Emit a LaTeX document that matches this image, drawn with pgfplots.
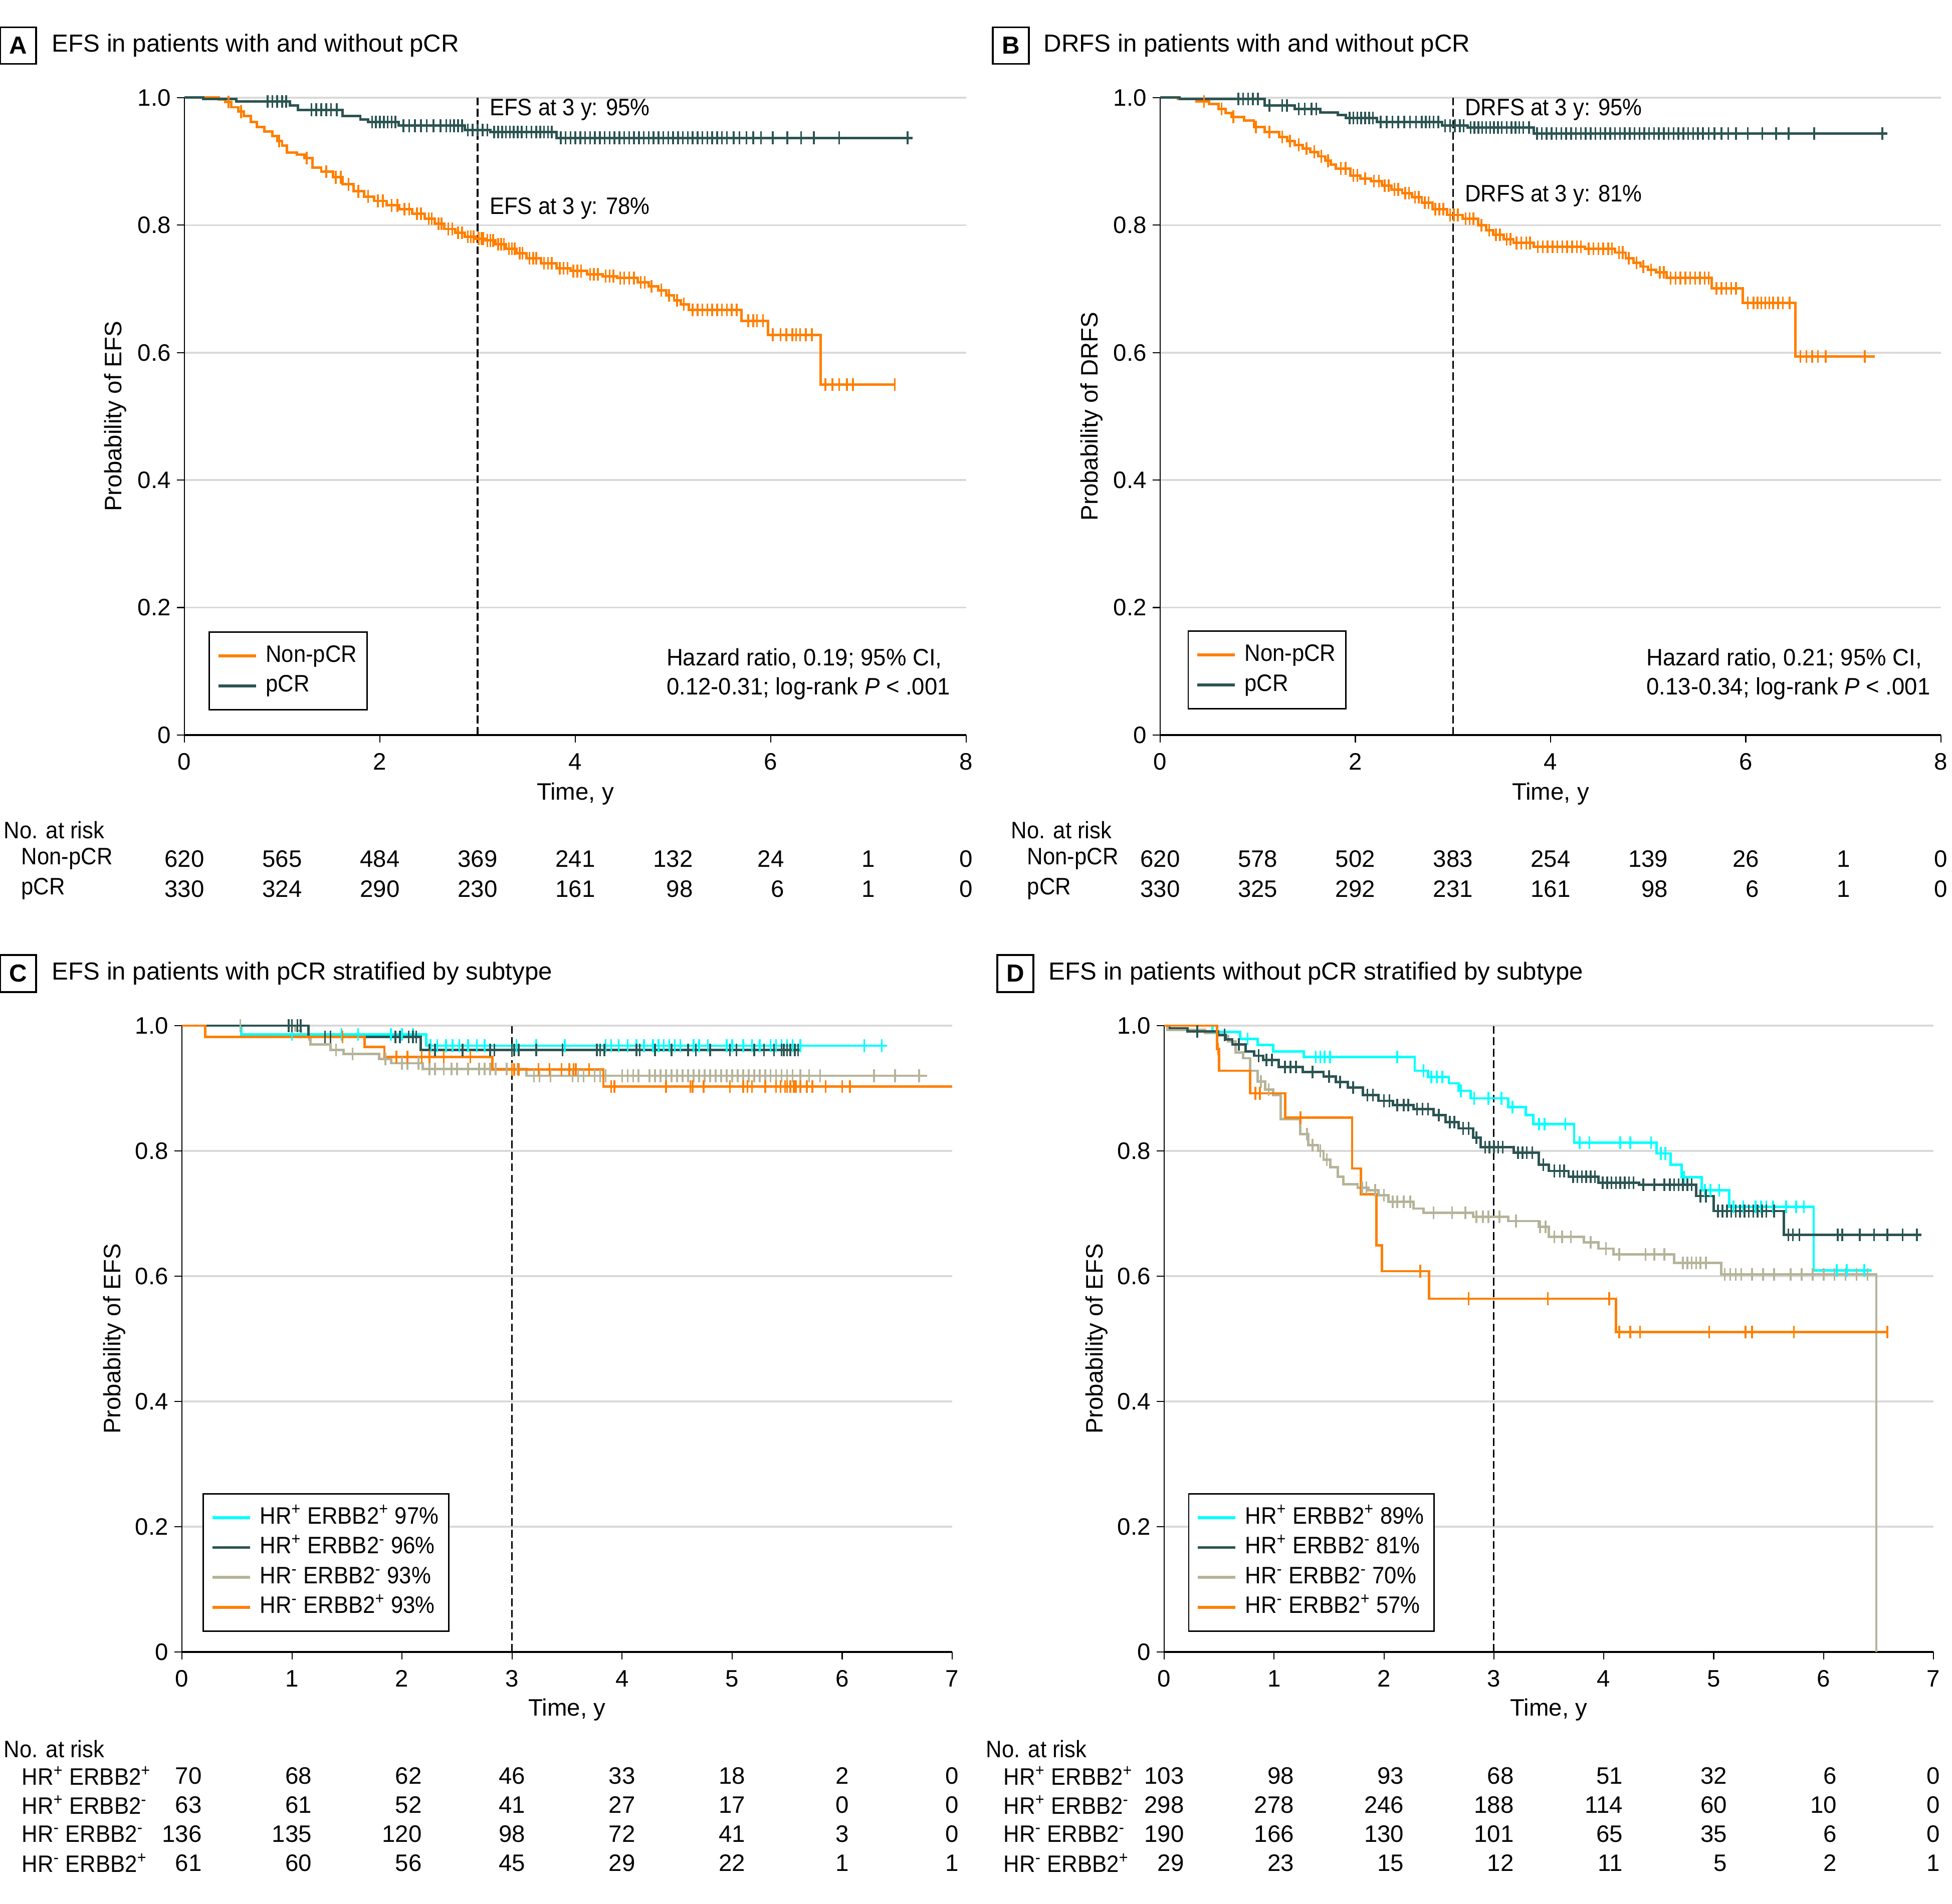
\documentclass[border=0pt]{standalone}
\usepackage{pgfplots}
\pgfplotsset{compat=1.18}
\usepackage{fontspec}
\setmainfont{Liberation Sans}
\newcommand\fs{\fontsize{13.5pt}{16pt}\selectfont}
\newcommand\tfs{\fontsize{14pt}{16pt}\selectfont}
\newcommand\nw[1]{\scalebox{0.92}[1]{#1}}
\newcommand\hw[1]{\scalebox{0.96}[1]{#1}}
\definecolor{kmorange}{RGB}{255,127,0}
\definecolor{kmteal}{RGB}{43,84,82}
\definecolor{kmcyan}{RGB}{0,255,255}
\definecolor{kmkhaki}{RGB}{181,180,154}
\definecolor{gridgray}{RGB}{217,217,217}
\newcommand\rn[2]{\hphantom{#1}\llap{#2}}
\tikzset{vline/.style={black, line width=0.9pt, dash pattern=on 4.5pt off 2pt}}
\pgfplotsset{
  kmaxis/.style={scale only axis, clip=false, ymin=0, ymax=1,
    axis x line*=bottom, axis y line*=left, axis line style={-},
    x axis line style={line width=1.2pt}, y axis line style={line width=0.6pt},
    ytick={0,0.2,0.4,0.6,0.8,1}, yticklabels={0,0.2,0.4,0.6,0.8,1.0},
    ymajorgrids, major grid style={draw=gridgray, line width=1pt},
    tick align=outside, major tick length=0.15cm, tick style={black, line width=0.6pt},
    font=\fs, tick label style={font=\fs}, xticklabel style={yshift=-0.09cm},
    /pgf/number format/assume math mode=true,
    xlabel style={font=\fs, at={(axis description cs:0.5,-0.092)}, anchor=center},
    ylabel style={font=\fs, at={(axis description cs:-0.088,0.5)}, anchor=center},
    legend cell align=left,
    legend style={draw=black, line width=0.8pt, font=\fs, anchor=south west, inner xsep=0.15cm, inner ysep=0.18cm,
      nodes={inner sep=0.05cm, text height=0.37cm, text depth=0.126cm},
      /tikz/every odd column/.append style={column sep=0.12cm}},
    legend image code/.code={\draw[##1, line width=1.6pt] (0cm,0cm) -- (0.75cm,0cm);},
  },
  km/.style={const plot, line width=1.4pt, forget plot},
  cens/.style={only marks, mark=|, mark size=3.6pt, mark options={line width=1.0pt}, forget plot},
}
\begin{document}
\begin{tikzpicture}[font=\fs]
\useasboundingbox (0,0) rectangle (38.95,38);

% ---------------- Panel A ----------------
\node[draw, line width=1pt, minimum width=0.72cm, minimum height=0.73cm, inner sep=0pt, font=\tfs\bfseries] at (0.36,37.09) {A};
\node[anchor=west, inner sep=0pt, font=\tfs] at (1.03,37.09) {EFS in patients with and without pCR};
\begin{axis}[kmaxis, at={(3.68cm,23.33cm)}, anchor=south west, width=15.60cm, height=12.72cm,
  xmin=0, xmax=8, xtick={0,2,4,6,8}, xlabel={Time, y}, ylabel={Probability of EFS},
  legend style={at={(axis description cs:0.031,0.0385)}}]
\addlegendimage{kmorange}\addlegendentry{\nw{Non-pCR}}
\addlegendimage{kmteal}\addlegendentry{\nw{pCR}}
\draw[vline] (axis cs:3,0) -- (axis cs:3,1);
\addplot[km, kmorange] coordinates {(0,1.0)(0.35,0.997)(0.42,0.993)(0.48,0.985)(0.55,0.978)(0.61,0.971)(0.68,0.962)(0.74,0.954)(0.82,0.947)(0.90,0.940)(0.95,0.932)(1.00,0.925)(1.05,0.914)(1.15,0.911)(1.23,0.905)(1.31,0.890)(1.40,0.884)(1.52,0.875)(1.62,0.864)(1.73,0.853)(1.84,0.845)(1.94,0.838)(2.07,0.831)(2.20,0.825)(2.33,0.818)(2.46,0.810)(2.56,0.802)(2.66,0.794)(2.77,0.788)(2.87,0.782)(2.98,0.779)(3.08,0.776)(3.18,0.770)(3.29,0.763)(3.40,0.756)(3.50,0.748)(3.65,0.740)(3.81,0.732)(3.95,0.728)(4.12,0.723)(4.28,0.720)(4.43,0.717)(4.64,0.710)(4.75,0.704)(4.85,0.698)(4.93,0.690)(5.01,0.682)(5.08,0.676)(5.16,0.667)(5.70,0.650)(5.97,0.628)(6.51,0.550)(7.27,0.550)};
\addplot[cens, kmorange] coordinates {(0.45,0.993)(0.58,0.978)(0.97,0.932)(1.25,0.905)(1.45,0.884)(1.55,0.875)(1.60,0.875)(1.68,0.864)(1.78,0.853)(1.88,0.845)(1.98,0.838)(2.03,0.838)(2.12,0.831)(2.18,0.831)(2.25,0.825)(2.30,0.825)(2.38,0.818)(2.42,0.818)(2.50,0.810)(2.53,0.810)(2.60,0.802)(2.63,0.802)(2.70,0.794)(2.74,0.794)(2.80,0.788)(2.84,0.788)(2.90,0.782)(2.93,0.782)(2.96,0.782)(3.01,0.779)(3.04,0.779)(3.06,0.779)(3.10,0.776)(3.13,0.776)(3.16,0.776)(3.21,0.770)(3.24,0.770)(3.27,0.770)(3.32,0.763)(3.35,0.763)(3.38,0.763)(3.43,0.756)(3.46,0.756)(3.53,0.748)(3.57,0.748)(3.60,0.748)(3.68,0.740)(3.72,0.740)(3.76,0.740)(3.84,0.732)(3.88,0.732)(3.92,0.732)(3.98,0.728)(4.02,0.728)(4.06,0.728)(4.15,0.723)(4.19,0.723)(4.23,0.723)(4.31,0.720)(4.35,0.720)(4.39,0.720)(4.46,0.717)(4.50,0.717)(4.55,0.717)(4.60,0.717)(4.67,0.710)(4.71,0.710)(4.78,0.704)(4.88,0.698)(4.96,0.690)(5.04,0.682)(5.11,0.676)(5.20,0.667)(5.25,0.667)(5.30,0.667)(5.35,0.667)(5.40,0.667)(5.45,0.667)(5.50,0.667)(5.55,0.667)(5.60,0.667)(5.65,0.667)(5.77,0.650)(5.82,0.650)(5.86,0.650)(5.92,0.650)(6.02,0.628)(6.10,0.628)(6.16,0.628)(6.22,0.628)(6.26,0.628)(6.30,0.628)(6.36,0.628)(6.42,0.628)(6.56,0.550)(6.63,0.550)(6.70,0.550)(6.78,0.550)(6.84,0.550)(7.27,0.550)};
\addplot[km, kmteal] coordinates {(0,1.0)(0.19,0.998)(0.53,0.994)(1.08,0.988)(1.16,0.981)(1.62,0.971)(1.80,0.966)(1.88,0.962)(2.19,0.956)(2.87,0.949)(3.13,0.946)(3.81,0.937)(7.45,0.937)};
\addplot[cens, kmteal] coordinates {(0.85,0.994)(0.90,0.994)(0.95,0.994)(1.00,0.994)(1.04,0.994)(1.30,0.981)(1.35,0.981)(1.40,0.981)(1.45,0.981)(1.50,0.981)(1.56,0.981)(1.92,0.962)(1.96,0.962)(2.00,0.962)(2.04,0.962)(2.08,0.962)(2.12,0.962)(2.16,0.962)(2.24,0.956)(2.30,0.956)(2.36,0.956)(2.42,0.956)(2.48,0.956)(2.55,0.956)(2.62,0.956)(2.68,0.956)(2.72,0.956)(2.76,0.956)(2.80,0.956)(2.84,0.956)(2.90,0.949)(2.95,0.949)(3.00,0.949)(3.05,0.949)(3.10,0.949)(3.17,0.946)(3.21,0.946)(3.25,0.946)(3.29,0.946)(3.33,0.946)(3.37,0.946)(3.41,0.946)(3.45,0.946)(3.50,0.946)(3.55,0.946)(3.60,0.946)(3.64,0.946)(3.68,0.946)(3.72,0.946)(3.76,0.946)(3.85,0.937)(3.90,0.937)(3.95,0.937)(4.00,0.937)(4.05,0.937)(4.10,0.937)(4.15,0.937)(4.20,0.937)(4.25,0.937)(4.30,0.937)(4.35,0.937)(4.40,0.937)(4.45,0.937)(4.50,0.937)(4.55,0.937)(4.60,0.937)(4.65,0.937)(4.70,0.937)(4.75,0.937)(4.80,0.937)(4.85,0.937)(4.90,0.937)(4.95,0.937)(5.00,0.937)(5.05,0.937)(5.10,0.937)(5.15,0.937)(5.20,0.937)(5.25,0.937)(5.30,0.937)(5.35,0.937)(5.40,0.937)(5.45,0.937)(5.50,0.937)(5.55,0.937)(5.62,0.937)(5.68,0.937)(5.75,0.937)(5.82,0.937)(5.90,0.937)(6.02,0.937)(6.17,0.937)(6.31,0.937)(6.44,0.937)(6.70,0.937)(7.40,0.937)};
\node[anchor=west] at (axis cs:3.06,0.981) {\nw{EFS at 3 y: 95\%}};
\node[anchor=west] at (axis cs:3.06,0.826) {\nw{EFS at 3 y: 78\%}};
\node[anchor=west, inner sep=0pt] at (axis cs:4.93,0.120) {\hw{Hazard ratio, 0.19; 95\% CI,}};
\node[anchor=west, inner sep=0pt] at (axis cs:4.93,0.073) {\hw{0.12-0.31; log-rank \textit{P} < .001}};
\end{axis}
\node[anchor=west, inner sep=0pt] at (0.07,21.43) {\nw{No. at risk}};
\node[anchor=west, inner sep=0pt] at (0.42,20.86) {\nw{Non-pCR}};
\node[anchor=west, inner sep=0pt] at (0.42,20.26) {\nw{pCR}};
\foreach \k/\w/\a/\b in {0/620/620/330,1/565/565/324,2/484/484/290,3/369/369/230,4/241/241/161,5/132/132/98,6/24/24/6,7/1/1/1,8/0/0/0}{
  \node[inner sep=0pt] at ({3.68+1.95*\k},20.86) {\rn{\w}{\a}};
  \node[inner sep=0pt] at ({3.68+1.95*\k},20.26) {\rn{\w}{\b}};
}

% ---------------- Panel B ----------------
\node[draw, line width=1pt, minimum width=0.72cm, minimum height=0.73cm, inner sep=0pt, font=\tfs\bfseries] at (20.17,37.09) {B};
\node[anchor=west, inner sep=0pt, font=\tfs] at (20.82,37.09) {DRFS in patients with and without pCR};
\begin{axis}[kmaxis, at={(23.15cm,23.33cm)}, anchor=south west, width=15.58cm, height=12.72cm,
  xmin=0, xmax=8, xtick={0,2,4,6,8}, xlabel={Time, y}, ylabel={Probability of DRFS},
  legend style={at={(axis description cs:0.035,0.040)}}]
\addlegendimage{kmorange}\addlegendentry{\nw{Non-pCR}}
\addlegendimage{kmteal}\addlegendentry{\nw{pCR}}
\draw[vline] (axis cs:3,0) -- (axis cs:3,1);
\addplot[km, kmorange] coordinates {(0,1.0)(0.18,0.998)(0.37,0.994)(0.50,0.990)(0.60,0.982)(0.67,0.976)(0.73,0.970)(0.86,0.964)(0.96,0.954)(1.07,0.946)(1.22,0.938)(1.30,0.932)(1.38,0.926)(1.46,0.920)(1.54,0.915)(1.62,0.908)(1.69,0.901)(1.75,0.895)(1.80,0.889)(1.95,0.878)(2.05,0.873)(2.16,0.869)(2.27,0.862)(2.37,0.856)(2.48,0.850)(2.58,0.844)(2.68,0.835)(2.79,0.825)(2.94,0.816)(3.10,0.810)(3.26,0.800)(3.34,0.792)(3.41,0.785)(3.52,0.778)(3.62,0.772)(3.83,0.766)(4.35,0.763)(4.66,0.757)(4.77,0.748)(4.85,0.741)(4.92,0.735)(5.00,0.730)(5.08,0.726)(5.19,0.717)(5.65,0.701)(5.97,0.678)(6.51,0.594)(7.32,0.594)};
\addplot[cens, kmorange] coordinates {(0.45,0.994)(0.63,0.982)(0.75,0.970)(0.98,0.954)(1.12,0.946)(1.25,0.938)(1.33,0.932)(1.42,0.926)(1.50,0.920)(1.58,0.915)(1.65,0.908)(1.72,0.901)(1.85,0.889)(1.90,0.889)(1.98,0.878)(2.02,0.878)(2.10,0.873)(2.19,0.869)(2.24,0.869)(2.30,0.862)(2.34,0.862)(2.40,0.856)(2.44,0.856)(2.51,0.850)(2.55,0.850)(2.61,0.844)(2.65,0.844)(2.71,0.835)(2.75,0.835)(2.82,0.825)(2.86,0.825)(2.90,0.825)(2.97,0.816)(3.01,0.816)(3.05,0.816)(3.13,0.810)(3.17,0.810)(3.21,0.810)(3.29,0.800)(3.37,0.792)(3.44,0.785)(3.48,0.785)(3.55,0.778)(3.59,0.778)(3.65,0.772)(3.70,0.772)(3.75,0.772)(3.79,0.772)(3.87,0.766)(3.92,0.766)(3.97,0.766)(4.02,0.766)(4.07,0.766)(4.12,0.766)(4.17,0.766)(4.22,0.766)(4.27,0.766)(4.31,0.766)(4.39,0.763)(4.44,0.763)(4.49,0.763)(4.54,0.763)(4.59,0.763)(4.63,0.763)(4.70,0.757)(4.74,0.757)(4.80,0.748)(4.88,0.741)(4.95,0.735)(5.03,0.730)(5.12,0.726)(5.16,0.726)(5.23,0.717)(5.28,0.717)(5.33,0.717)(5.38,0.717)(5.43,0.717)(5.48,0.717)(5.53,0.717)(5.58,0.717)(5.62,0.717)(5.70,0.701)(5.75,0.701)(5.80,0.701)(5.85,0.701)(5.90,0.701)(6.02,0.678)(6.08,0.678)(6.12,0.678)(6.16,0.678)(6.20,0.678)(6.24,0.678)(6.28,0.678)(6.33,0.678)(6.38,0.678)(6.45,0.678)(6.56,0.594)(6.62,0.594)(6.68,0.594)(6.74,0.594)(6.82,0.594)(7.22,0.594)};
\addplot[km, kmteal] coordinates {(0,1.0)(0.20,0.998)(1.07,0.988)(1.38,0.982)(1.64,0.977)(1.82,0.973)(1.90,0.968)(2.22,0.962)(2.89,0.956)(3.15,0.953)(3.83,0.944)(7.45,0.944)};
\addplot[cens, kmteal] coordinates {(0.80,0.998)(0.85,0.998)(0.90,0.998)(0.95,0.998)(1.00,0.998)(1.12,0.988)(1.25,0.988)(1.30,0.988)(1.42,0.982)(1.48,0.982)(1.55,0.982)(1.60,0.982)(1.94,0.968)(1.98,0.968)(2.02,0.968)(2.06,0.968)(2.10,0.968)(2.14,0.968)(2.18,0.968)(2.26,0.962)(2.32,0.962)(2.38,0.962)(2.44,0.962)(2.50,0.962)(2.56,0.962)(2.62,0.962)(2.68,0.962)(2.72,0.962)(2.76,0.962)(2.80,0.962)(2.85,0.962)(2.92,0.956)(2.97,0.956)(3.02,0.956)(3.07,0.956)(3.11,0.956)(3.18,0.953)(3.22,0.953)(3.26,0.953)(3.30,0.953)(3.34,0.953)(3.38,0.953)(3.42,0.953)(3.46,0.953)(3.50,0.953)(3.55,0.953)(3.60,0.953)(3.64,0.953)(3.68,0.953)(3.72,0.953)(3.78,0.953)(3.86,0.944)(3.91,0.944)(3.96,0.944)(4.01,0.944)(4.06,0.944)(4.11,0.944)(4.16,0.944)(4.21,0.944)(4.26,0.944)(4.31,0.944)(4.36,0.944)(4.41,0.944)(4.46,0.944)(4.51,0.944)(4.56,0.944)(4.61,0.944)(4.66,0.944)(4.71,0.944)(4.76,0.944)(4.81,0.944)(4.86,0.944)(4.91,0.944)(4.96,0.944)(5.01,0.944)(5.06,0.944)(5.11,0.944)(5.16,0.944)(5.21,0.944)(5.26,0.944)(5.31,0.944)(5.36,0.944)(5.41,0.944)(5.46,0.944)(5.51,0.944)(5.56,0.944)(5.62,0.944)(5.68,0.944)(5.75,0.944)(5.82,0.944)(5.90,0.944)(6.02,0.944)(6.17,0.944)(6.31,0.944)(6.44,0.944)(6.70,0.944)(7.40,0.944)};
\node[anchor=west] at (axis cs:3.06,0.981) {\nw{DRFS at 3 y: 95\%}};
\node[anchor=west] at (axis cs:3.06,0.846) {\nw{DRFS at 3 y: 81\%}};
\node[anchor=west, inner sep=0pt] at (axis cs:4.98,0.120) {\hw{Hazard ratio, 0.21; 95\% CI,}};
\node[anchor=west, inner sep=0pt] at (axis cs:4.98,0.073) {\hw{0.13-0.34; log-rank \textit{P} < .001}};
\end{axis}
\node[anchor=west, inner sep=0pt] at (20.17,21.43) {\nw{No. at risk}};
\node[anchor=west, inner sep=0pt] at (20.49,20.86) {\nw{Non-pCR}};
\node[anchor=west, inner sep=0pt] at (20.49,20.26) {\nw{pCR}};
\foreach \k/\w/\a/\b in {0/620/620/330,1/578/578/325,2/502/502/292,3/383/383/231,4/254/254/161,5/139/139/98,6/26/26/6,7/1/1/1,8/0/0/0}{
  \node[inner sep=0pt] at ({23.15+1.9475*\k},20.86) {\rn{\w}{\a}};
  \node[inner sep=0pt] at ({23.15+1.9475*\k},20.26) {\rn{\w}{\b}};
}

% ---------------- Panel C ----------------
\node[draw, line width=1pt, minimum width=0.72cm, minimum height=0.74cm, inner sep=0pt, font=\tfs\bfseries] at (0.36,18.57) {C};
\node[anchor=west, inner sep=0pt, font=\tfs] at (1.03,18.57) {EFS in patients with pCR stratified by subtype};
\begin{axis}[kmaxis, at={(3.63cm,5.03cm)}, anchor=south west, width=15.37cm, height=12.50cm,
  xmin=0, xmax=7, xtick={0,1,2,3,4,5,6,7}, xlabel={Time, y}, ylabel={Probability of EFS},
  legend style={at={(axis description cs:0.027,0.032)}}]
\addlegendimage{kmcyan}\addlegendentry{\nw{HR\textsuperscript{+} ERBB2\textsuperscript{+} 97\%}}
\addlegendimage{kmteal}\addlegendentry{\nw{HR\textsuperscript{+} ERBB2\textsuperscript{-} 96\%}}
\addlegendimage{kmkhaki}\addlegendentry{\nw{HR\textsuperscript{-} ERBB2\textsuperscript{-} 93\%}}
\addlegendimage{kmorange}\addlegendentry{\nw{HR\textsuperscript{-} ERBB2\textsuperscript{+} 93\%}}
\draw[vline] (axis cs:3,0) -- (axis cs:3,1);
\addplot[km, kmkhaki] coordinates {(0,1.0)(1.03,0.992)(1.08,0.986)(1.16,0.978)(1.17,0.970)(1.35,0.961)(1.47,0.955)(1.79,0.947)(1.90,0.940)(2.19,0.931)(3.13,0.920)(6.77,0.920)};
\addplot[cens, kmkhaki] coordinates {(0.53,1.0)(1.40,0.961)(1.55,0.955)(1.85,0.947)(2.00,0.940)(2.05,0.940)(2.15,0.940)(2.25,0.931)(2.30,0.931)(2.38,0.931)(2.45,0.931)(2.50,0.931)(2.60,0.931)(2.70,0.931)(2.75,0.931)(2.80,0.931)(2.85,0.931)(2.95,0.931)(3.00,0.931)(3.05,0.931)(3.20,0.920)(3.25,0.920)(3.35,0.920)(3.55,0.920)(3.60,0.920)(3.65,0.920)(3.75,0.920)(3.80,0.920)(3.85,0.920)(4.00,0.920)(4.05,0.920)(4.10,0.920)(4.15,0.920)(4.25,0.920)(4.30,0.920)(4.35,0.920)(4.40,0.920)(4.45,0.920)(4.50,0.920)(4.55,0.920)(4.60,0.920)(4.65,0.920)(4.70,0.920)(4.75,0.920)(4.80,0.920)(4.85,0.920)(4.90,0.920)(4.95,0.920)(5.00,0.920)(5.05,0.920)(5.10,0.920)(5.15,0.920)(5.20,0.920)(5.25,0.920)(5.30,0.920)(5.35,0.920)(5.40,0.920)(5.45,0.920)(5.50,0.920)(5.55,0.920)(5.62,0.920)(5.70,0.920)(5.80,0.920)(6.29,0.920)(6.48,0.920)(6.70,0.920)};
\addplot[km, kmcyan] coordinates {(0,1.0)(0.54,0.986)(2.22,0.968)(6.41,0.968)};
\addplot[cens, kmcyan] coordinates {(1.00,0.986)(1.45,0.986)(1.60,0.986)(1.90,0.986)(2.00,0.986)(2.10,0.986)(2.26,0.968)(2.32,0.968)(2.40,0.968)(2.46,0.968)(2.52,0.968)(2.60,0.968)(2.68,0.968)(2.75,0.968)(3.04,0.968)(3.22,0.968)(3.48,0.968)(3.85,0.968)(3.90,0.968)(3.97,0.968)(4.05,0.968)(4.13,0.968)(4.20,0.968)(4.28,0.968)(4.33,0.968)(4.38,0.968)(4.43,0.968)(4.48,0.968)(4.53,0.968)(4.65,0.968)(4.70,0.968)(4.78,0.968)(4.95,0.968)(5.00,0.968)(5.10,0.968)(5.18,0.968)(5.25,0.968)(5.35,0.968)(5.40,0.968)(5.45,0.968)(5.50,0.968)(5.55,0.968)(5.62,0.968)(6.20,0.968)(6.36,0.968)};
\addplot[km, kmteal] coordinates {(0,1.0)(1.15,0.982)(2.17,0.961)(5.63,0.961)};
\addplot[cens, kmteal] coordinates {(0.97,1.0)(1.00,1.0)(1.05,1.0)(1.08,1.0)(1.30,0.982)(1.35,0.982)(1.94,0.982)(1.98,0.982)(2.06,0.982)(2.10,0.982)(2.13,0.982)(2.25,0.961)(2.30,0.961)(2.55,0.961)(2.80,0.961)(2.84,0.961)(3.00,0.961)(3.02,0.961)(3.06,0.961)(3.22,0.961)(3.46,0.961)(3.77,0.961)(3.80,0.961)(3.84,0.961)(4.13,0.961)(4.16,0.961)(4.30,0.961)(4.45,0.961)(4.60,0.961)(4.67,0.961)(4.80,0.961)(4.98,0.961)(5.04,0.961)(5.20,0.961)(5.29,0.961)(5.38,0.961)(5.45,0.961)(5.47,0.961)(5.50,0.961)(5.53,0.961)(5.57,0.961)(5.60,0.961)};
\addplot[km, kmorange] coordinates {(0,1.0)(0.21,0.982)(1.66,0.966)(1.84,0.950)(2.82,0.930)(3.83,0.903)(7.0,0.903)};
\addplot[cens, kmorange] coordinates {(1.46,0.982)(1.95,0.950)(2.05,0.950)(2.18,0.950)(2.25,0.950)(2.38,0.950)(2.62,0.950)(3.00,0.930)(3.02,0.930)(3.06,0.930)(3.24,0.930)(3.34,0.930)(3.45,0.930)(3.52,0.930)(3.56,0.930)(3.58,0.930)(3.70,0.930)(3.90,0.903)(3.93,0.903)(4.40,0.903)(4.62,0.903)(4.64,0.903)(4.74,0.903)(4.98,0.903)(5.10,0.903)(5.14,0.903)(5.18,0.903)(5.30,0.903)(5.40,0.903)(5.44,0.903)(5.48,0.903)(5.50,0.903)(5.53,0.903)(5.56,0.903)(5.58,0.903)(5.62,0.903)(5.68,0.903)(5.73,0.903)(5.85,0.903)(6.00,0.903)(6.07,0.903)};
\end{axis}
\node[anchor=west, inner sep=0pt] at (0.07,3.09) {\nw{No. at risk}};
\node[anchor=west, inner sep=0pt] at (0.43,2.56) {\nw{HR\textsuperscript{+} ERBB2\textsuperscript{+}}};
\node[anchor=west, inner sep=0pt] at (0.43,1.98) {\nw{HR\textsuperscript{+} ERBB2\textsuperscript{-}}};
\node[anchor=west, inner sep=0pt] at (0.43,1.40) {\nw{HR\textsuperscript{-} ERBB2\textsuperscript{-}}};
\node[anchor=west, inner sep=0pt] at (0.43,0.82) {\nw{HR\textsuperscript{-} ERBB2\textsuperscript{+}}};
\foreach \k/\w/\a/\b/\c/\d in {0/136/70/63/136/61,1/135/68/61/135/60,2/120/62/52/120/56,3/98/46/41/98/45,4/72/33/27/72/29,5/41/18/17/41/22,6/3/2/0/3/1,7/0/0/0/0/1}{
  \node[inner sep=0pt] at ({3.63+2.1957*\k},2.56) {\rn{\w}{\a}};
  \node[inner sep=0pt] at ({3.63+2.1957*\k},1.98) {\rn{\w}{\b}};
  \node[inner sep=0pt] at ({3.63+2.1957*\k},1.40) {\rn{\w}{\c}};
  \node[inner sep=0pt] at ({3.63+2.1957*\k},0.82) {\rn{\w}{\d}};
}

% ---------------- Panel D ----------------
\node[draw, line width=1pt, minimum width=0.72cm, minimum height=0.74cm, inner sep=0pt, font=\tfs\bfseries] at (20.26,18.57) {D};
\node[anchor=west, inner sep=0pt, font=\tfs] at (20.92,18.57) {EFS in patients without pCR stratified by subtype};
\begin{axis}[kmaxis, at={(23.23cm,5.03cm)}, anchor=south west, width=15.35cm, height=12.50cm,
  xmin=0, xmax=7, xtick={0,1,2,3,4,5,6,7}, xlabel={Time, y}, ylabel={Probability of EFS},
  legend style={at={(axis description cs:0.031,0.032)}}]
\addlegendimage{kmcyan}\addlegendentry{\nw{HR\textsuperscript{+} ERBB2\textsuperscript{+} 89\%}}
\addlegendimage{kmteal}\addlegendentry{\nw{HR\textsuperscript{+} ERBB2\textsuperscript{-} 81\%}}
\addlegendimage{kmkhaki}\addlegendentry{\nw{HR\textsuperscript{-} ERBB2\textsuperscript{-} 70\%}}
\addlegendimage{kmorange}\addlegendentry{\nw{HR\textsuperscript{-} ERBB2\textsuperscript{+} 57\%}}
\draw[vline] (axis cs:3,0) -- (axis cs:3,1);
\addplot[km, kmkhaki] coordinates {(0,1.0)(0.03,0.993)(0.37,0.988)(0.49,0.984)(0.58,0.975)(0.65,0.957)(0.72,0.948)(0.78,0.928)(0.85,0.911)(0.92,0.898)(0.99,0.889)(1.06,0.851)(1.24,0.827)(1.31,0.809)(1.40,0.800)(1.45,0.786)(1.51,0.774)(1.58,0.759)(1.63,0.747)(1.76,0.741)(1.86,0.737)(1.95,0.729)(2.04,0.719)(2.27,0.708)(2.36,0.701)(2.81,0.695)(3.13,0.688)(3.41,0.679)(3.50,0.663)(3.82,0.654)(3.95,0.644)(4.09,0.635)(4.64,0.621)(5.07,0.603)(6.48,0.603)(6.48,0)};
\addplot[cens, kmkhaki] coordinates {(0.88,0.911)(0.95,0.898)(1.30,0.827)(1.35,0.809)(1.42,0.800)(1.48,0.786)(1.80,0.741)(1.84,0.741)(1.92,0.737)(2.00,0.729)(2.08,0.719)(2.12,0.719)(2.18,0.719)(2.24,0.719)(2.45,0.701)(2.62,0.701)(2.74,0.701)(2.84,0.695)(2.90,0.695)(2.95,0.695)(3.05,0.695)(3.20,0.688)(3.42,0.679)(3.47,0.679)(3.55,0.663)(3.62,0.663)(3.70,0.663)(3.88,0.654)(4.02,0.644)(4.14,0.635)(4.38,0.635)(4.46,0.635)(4.55,0.635)(4.72,0.621)(4.76,0.621)(4.80,0.621)(4.84,0.621)(4.88,0.621)(4.93,0.621)(5.10,0.603)(5.15,0.603)(5.20,0.603)(5.25,0.603)(5.35,0.603)(5.45,0.603)(5.55,0.603)(5.70,0.603)(5.80,0.603)(5.90,0.603)(6.00,0.603)(6.10,0.603)(6.20,0.603)(6.30,0.603)(6.40,0.603)};
\addplot[km, kmcyan] coordinates {(0,1.0)(0.44,0.990)(0.69,0.979)(0.85,0.969)(0.99,0.959)(1.27,0.950)(2.28,0.928)(2.40,0.918)(2.59,0.908)(2.68,0.896)(2.79,0.884)(3.13,0.870)(3.29,0.857)(3.36,0.843)(3.73,0.813)(4.48,0.796)(4.61,0.778)(4.71,0.758)(4.89,0.737)(5.14,0.711)(5.91,0.609)(6.44,0.609)};
\addplot[cens, kmcyan] coordinates {(0.76,0.979)(1.38,0.950)(1.42,0.950)(1.46,0.950)(1.51,0.950)(2.12,0.950)(2.36,0.928)(2.43,0.918)(2.48,0.918)(2.53,0.918)(2.70,0.896)(2.82,0.884)(2.95,0.884)(3.07,0.884)(3.17,0.870)(3.41,0.843)(3.46,0.843)(3.65,0.843)(3.78,0.813)(3.87,0.813)(4.15,0.813)(4.24,0.813)(4.43,0.813)(4.52,0.796)(4.56,0.796)(4.73,0.758)(4.92,0.737)(4.97,0.737)(5.05,0.737)(5.18,0.711)(5.27,0.711)(5.38,0.711)(5.43,0.711)(5.48,0.711)(5.54,0.711)(5.66,0.711)(5.75,0.711)(5.82,0.711)(6.12,0.609)(6.21,0.609)(6.37,0.609)};
\addplot[km, kmteal] coordinates {(0,1.0)(0.05,0.996)(0.21,0.991)(0.49,0.985)(0.56,0.978)(0.62,0.970)(0.74,0.959)(0.82,0.952)(0.90,0.945)(1.04,0.934)(1.26,0.926)(1.45,0.919)(1.56,0.910)(1.67,0.901)(1.81,0.889)(1.95,0.880)(2.08,0.873)(2.27,0.867)(2.45,0.857)(2.56,0.846)(2.68,0.836)(2.81,0.821)(2.88,0.806)(3.18,0.797)(3.41,0.778)(3.50,0.768)(3.68,0.759)(3.95,0.749)(4.32,0.746)(4.84,0.728)(5.00,0.704)(5.64,0.666)(6.89,0.666)};
\addplot[cens, kmteal] coordinates {(0.30,0.991)(0.55,0.985)(0.68,0.970)(0.86,0.952)(0.93,0.945)(0.98,0.945)(1.10,0.934)(1.15,0.934)(1.20,0.934)(1.35,0.926)(1.50,0.919)(1.60,0.910)(1.72,0.901)(1.85,0.889)(1.90,0.889)(2.00,0.880)(2.05,0.880)(2.12,0.873)(2.18,0.873)(2.22,0.873)(2.30,0.867)(2.35,0.867)(2.40,0.867)(2.50,0.857)(2.60,0.846)(2.64,0.846)(2.72,0.836)(2.77,0.836)(2.84,0.821)(2.92,0.806)(2.96,0.806)(3.00,0.806)(3.04,0.806)(3.08,0.806)(3.22,0.797)(3.26,0.797)(3.30,0.797)(3.35,0.797)(3.45,0.778)(3.55,0.768)(3.60,0.768)(3.64,0.768)(3.72,0.759)(3.76,0.759)(3.80,0.759)(3.84,0.759)(3.88,0.759)(3.92,0.759)(3.99,0.749)(4.03,0.749)(4.07,0.749)(4.11,0.749)(4.15,0.749)(4.19,0.749)(4.23,0.749)(4.27,0.749)(4.36,0.746)(4.46,0.746)(4.55,0.746)(4.60,0.746)(4.64,0.746)(4.68,0.746)(4.72,0.746)(4.76,0.746)(4.80,0.746)(4.88,0.728)(4.93,0.728)(5.04,0.704)(5.08,0.704)(5.12,0.704)(5.16,0.704)(5.20,0.704)(5.24,0.704)(5.28,0.704)(5.32,0.704)(5.36,0.704)(5.40,0.704)(5.44,0.704)(5.48,0.704)(5.55,0.704)(5.68,0.666)(5.72,0.666)(5.78,0.666)(6.13,0.666)(6.17,0.666)(6.33,0.666)(6.46,0.666)(6.58,0.666)(6.72,0.666)(6.85,0.666)};
\addplot[km, kmorange] coordinates {(0,1.0)(0.48,0.963)(0.50,0.928)(0.78,0.892)(1.10,0.853)(1.71,0.772)(1.79,0.731)(1.93,0.649)(1.98,0.608)(2.41,0.564)(4.11,0.511)(6.58,0.511)};
\addplot[cens, kmorange] coordinates {(0.49,0.963)(0.83,0.892)(0.87,0.892)(1.24,0.853)(2.33,0.608)(2.77,0.564)(3.49,0.564)(4.05,0.564)(4.14,0.511)(4.24,0.511)(4.33,0.511)(4.96,0.511)(5.29,0.511)(5.35,0.511)(5.73,0.511)(6.58,0.511)};
\end{axis}
\node[anchor=west, inner sep=0pt] at (19.67,3.09) {\nw{No. at risk}};
\node[anchor=west, inner sep=0pt] at (20.02,2.56) {\nw{HR\textsuperscript{+} ERBB2\textsuperscript{+}}};
\node[anchor=west, inner sep=0pt] at (20.02,1.98) {\nw{HR\textsuperscript{+} ERBB2\textsuperscript{-}}};
\node[anchor=west, inner sep=0pt] at (20.02,1.40) {\nw{HR\textsuperscript{-} ERBB2\textsuperscript{-}}};
\node[anchor=west, inner sep=0pt] at (20.02,0.82) {\nw{HR\textsuperscript{-} ERBB2\textsuperscript{+}}};
\foreach \k/\w/\a/\b/\c/\d in {0/298/103/298/190/29,1/278/98/278/166/23,2/246/93/246/130/15,3/188/68/188/101/12,4/114/51/114/65/11,5/60/32/60/35/5,6/10/6/10/6/2,7/0/0/0/0/1}{
  \node[inner sep=0pt] at ({23.23+2.1929*\k},2.56) {\rn{\w}{\a}};
  \node[inner sep=0pt] at ({23.23+2.1929*\k},1.98) {\rn{\w}{\b}};
  \node[inner sep=0pt] at ({23.23+2.1929*\k},1.40) {\rn{\w}{\c}};
  \node[inner sep=0pt] at ({23.23+2.1929*\k},0.82) {\rn{\w}{\d}};
}
\end{tikzpicture}
\end{document}
